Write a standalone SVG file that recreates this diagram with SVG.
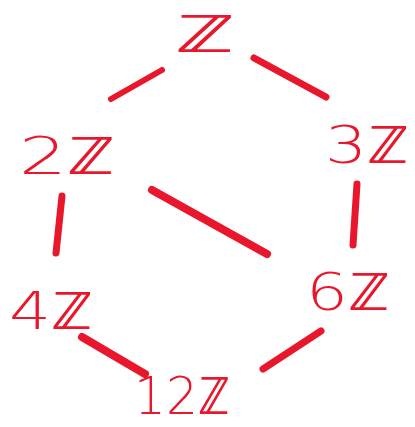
<svg xmlns="http://www.w3.org/2000/svg" width="415" height="427" viewBox="0 0 415 427">
<style>
.lbl{font-family:"DejaVu Sans","Liberation Sans",sans-serif;font-weight:200;font-size:52px;fill:#e8172b;text-anchor:middle}
.e{stroke:#e8172b;stroke-linecap:round;fill:none}
</style>
<rect width="415" height="427" fill="#ffffff"/>
<g id="connectors">
<line class="e" x1="111" y1="99" x2="162" y2="70" stroke-width="6"/>
<line class="e" x1="254" y1="58" x2="326" y2="97" stroke-width="7"/>
<line class="e" x1="62" y1="196" x2="56" y2="253" stroke-width="7"/>
<line class="e" x1="357" y1="184" x2="353" y2="245" stroke-width="7"/>
<line class="e" x1="152" y1="190" x2="267" y2="254" stroke-width="8"/>
<line class="e" x1="82" y1="337" x2="145" y2="374" stroke-width="8"/>
<line class="e" x1="321" y1="331" x2="263" y2="369" stroke-width="7"/>
</g>
<g id="n_Z"><text class="lbl" x="205" y="52" textLength="60" lengthAdjust="spacingAndGlyphs">ℤ</text></g>
<g id="n_2Z"><text class="lbl" x="67" y="174" textLength="96" lengthAdjust="spacingAndGlyphs">2ℤ</text></g>
<g id="n_3Z"><text class="lbl" x="367" y="163" textLength="84" lengthAdjust="spacingAndGlyphs">3ℤ</text></g>
<g id="n_4Z"><text class="lbl" x="51" y="329" textLength="84" lengthAdjust="spacingAndGlyphs">4ℤ</text></g>
<g id="n_6Z"><text class="lbl" x="348" y="310" textLength="84" lengthAdjust="spacingAndGlyphs">6ℤ</text></g>
<g id="n_12Z"><text class="lbl" x="182" y="414" textLength="96" lengthAdjust="spacingAndGlyphs">12ℤ</text></g>
</svg>
